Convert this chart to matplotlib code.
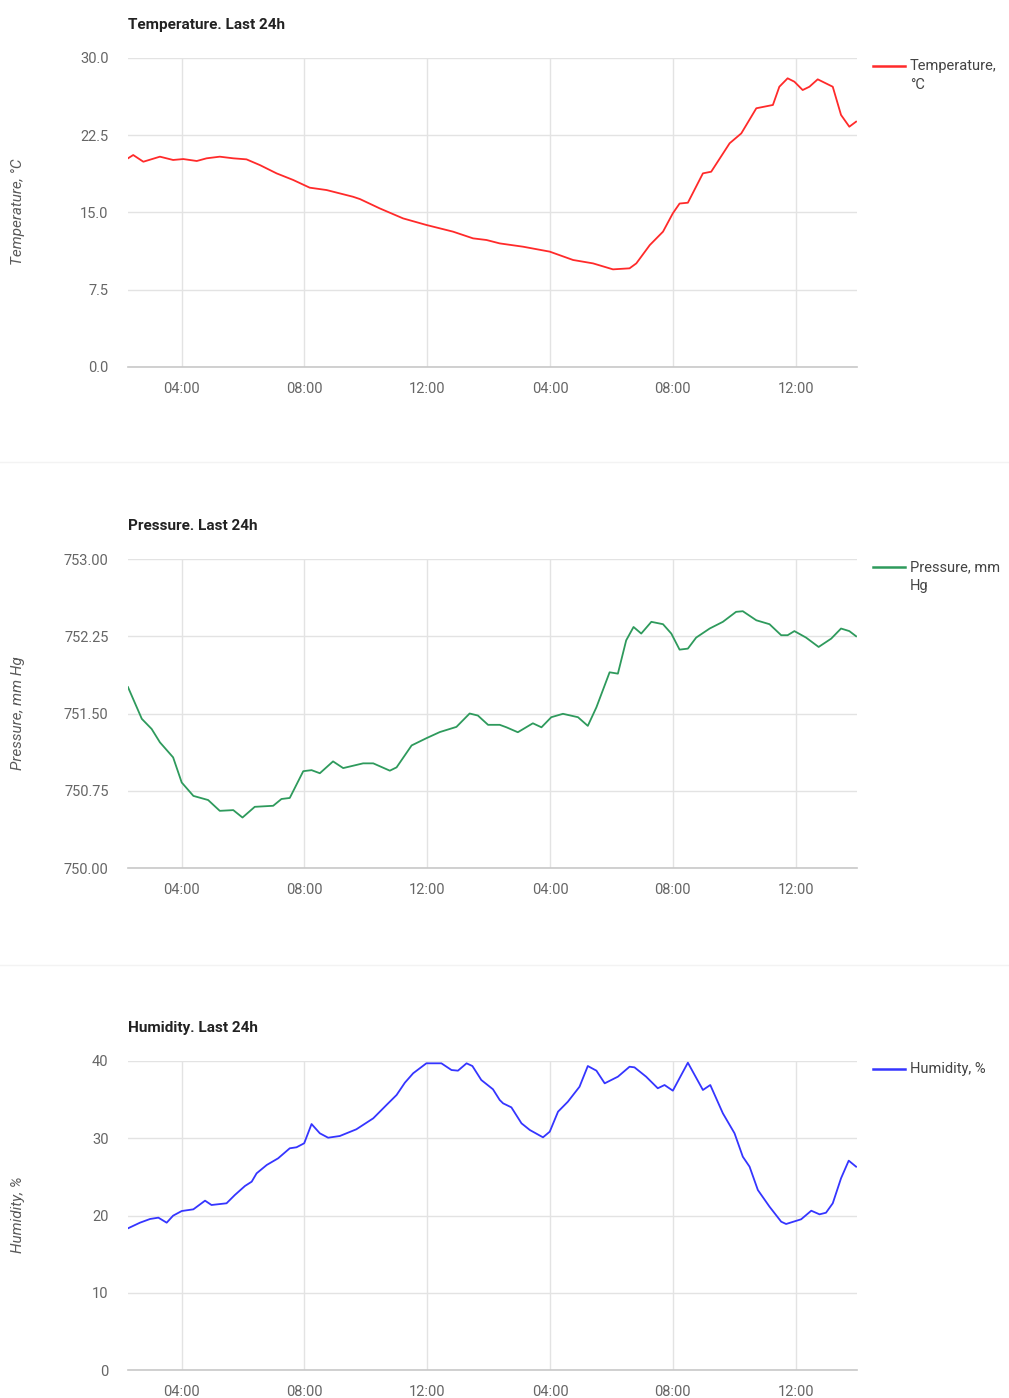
import matplotlib
matplotlib.use("Agg")
import matplotlib.pyplot as plt
from matplotlib.lines import Line2D

plt.rcParams['font.family'] = ['Roboto', 'DejaVu Sans']

# hours since midnight of the first day (ticks at 4h steps)
tick_hours = [4, 8, 12, 16, 20, 24]
tick_labels = ["04:00", "08:00", "12:00", "04:00", "08:00", "12:00"]

temp_hours = [2.25, 2.42, 2.75, 3.29, 3.72, 4.05, 4.49, 4.81, 5.24, 5.68, 6.11, 6.55,
              7.09, 7.63, 8.17, 8.72, 9.58, 9.81, 10.45, 11.21, 11.97, 12.84, 13.49,
              13.93, 14.36, 15.12, 15.99, 16.75, 17.40, 18.05, 18.59, 18.81, 19.25,
              19.68, 20.00, 20.22, 20.49, 20.98, 21.25, 21.85, 22.23, 22.72, 23.26,
              23.47, 23.74, 23.96, 24.23, 24.45, 24.72, 25.21, 25.48, 25.75, 25.97]
temp_values = [20.26, 20.58, 19.93, 20.42, 20.10, 20.19, 20.00, 20.26, 20.42, 20.26,
               20.16, 19.60, 18.80, 18.16, 17.41, 17.18, 16.53, 16.30, 15.40, 14.43,
               13.79, 13.14, 12.49, 12.33, 12.00, 11.68, 11.20, 10.39, 10.06, 9.48,
               9.58, 10.06, 11.84, 13.14, 14.92, 15.87, 15.95, 18.80, 18.96, 21.72,
               22.68, 25.12, 25.44, 27.21, 28.03, 27.70, 26.89, 27.21, 27.93, 27.21,
               24.47, 23.33, 23.82]

pres_hours = [2.25, 2.70, 3.02, 3.29, 3.72, 4.00, 4.38, 4.86, 5.24, 5.68, 5.98, 6.38,
              6.98, 7.25, 7.52, 7.96, 8.23, 8.50, 8.93, 9.26, 9.91, 10.24, 10.78, 11.00,
              11.49, 11.97, 12.41, 12.95, 13.38, 13.65, 13.98, 14.36, 14.58, 14.95,
              15.44, 15.72, 16.04, 16.42, 16.91, 17.23, 17.51, 17.94, 18.21, 18.48,
              18.72, 18.97, 19.30, 19.68, 19.95, 20.22, 20.49, 20.76, 21.20, 21.63,
              22.06, 22.28, 22.72, 23.15, 23.53, 23.74, 23.96, 24.34, 24.75, 25.16,
              25.48, 25.75, 25.97]
pres_values = [751.756, 751.448, 751.350, 751.220, 751.074, 750.830, 750.700, 750.660,
               750.555, 750.562, 750.490, 750.594, 750.604, 750.670, 750.680, 750.940,
               750.950, 750.920, 751.035, 750.970, 751.016, 751.016, 750.945, 750.977,
               751.190, 751.260, 751.320, 751.370, 751.500, 751.480, 751.390, 751.390,
               751.366, 751.318, 751.405, 751.366, 751.464, 751.497, 751.464, 751.380,
               751.560, 751.900, 751.887, 752.210, 752.340, 752.276, 752.390, 752.367,
               752.276, 752.120, 752.130, 752.237, 752.325, 752.390, 752.487, 752.493,
               752.405, 752.367, 752.260, 752.260, 752.300, 752.237, 752.146, 752.227,
               752.325, 752.300, 752.250]

hum_hours = [2.25, 2.64, 2.97, 3.24, 3.51, 3.72, 4.00, 4.38, 4.76, 4.97, 5.46, 5.73,
             6.06, 6.28, 6.44, 6.77, 7.14, 7.52, 7.74, 7.99, 8.23, 8.50, 8.77, 9.15,
             9.69, 10.24, 10.67, 11.00, 11.27, 11.54, 11.97, 12.46, 12.79, 13.00, 13.28,
             13.47, 13.76, 14.14, 14.36, 14.47, 14.74, 15.07, 15.34, 15.77, 15.99, 16.26,
             16.58, 16.96, 17.23, 17.51, 17.78, 18.21, 18.59, 18.75, 19.13, 19.51, 19.73,
             20.00, 20.49, 20.98, 21.22, 21.63, 22.01, 22.28, 22.50, 22.77, 23.15, 23.53,
             23.69, 24.18, 24.51, 24.78, 24.99, 25.21, 25.48, 25.73, 25.97]
hum_values = [18.34, 19.07, 19.55, 19.72, 19.07, 19.98, 20.58, 20.80, 21.92, 21.36,
              21.58, 22.65, 23.82, 24.38, 25.46, 26.54, 27.40, 28.70, 28.83, 29.35,
              31.84, 30.64, 30.07, 30.29, 31.16, 32.58, 34.30, 35.60, 37.19, 38.41,
              39.70, 39.70, 38.83, 38.75, 39.70, 39.35, 37.54, 36.34, 34.95, 34.52,
              34.00, 31.93, 31.07, 30.12, 30.85, 33.44, 34.73, 36.67, 39.35, 38.75,
              37.11, 37.97, 39.26, 39.18, 37.97, 36.47, 36.89, 36.16, 39.78, 36.25,
              36.89, 33.23, 30.64, 27.61, 26.32, 23.30, 21.14, 19.20, 18.90, 19.51,
              20.62, 20.15, 20.36, 21.58, 24.82, 27.10, 26.32]

W, H = 1009, 1398


def draw_panel(fig, top, x, y, color, title, ylabel, legend_lines, yticks, fmt):
    bottom = top + 309
    ax = fig.add_axes([128 / W, 1 - bottom / H, 729 / W, 309 / H])
    ax.plot(x, y, color=color, lw=1.3, solid_joinstyle='round')
    ax.set_xlim(2.25, 26.0)
    ax.set_ylim(yticks[0], yticks[-1])
    ax.set_xticks(tick_hours)
    ax.set_xticklabels(tick_labels)
    ax.set_yticks(yticks)
    ax.set_yticklabels([fmt.format(v) for v in yticks])
    ax.grid(True, color='#e3e3e3', lw=1.0)
    ax.set_axisbelow(True)
    for s in ['top', 'right', 'left']:
        ax.spines[s].set_visible(False)
    ax.spines['bottom'].set_color('#c8c8c8')
    ax.spines['bottom'].set_linewidth(1.2)
    ax.tick_params(length=0, labelsize=10.5, colors='#666666')
    ax.tick_params(axis='y', pad=14)
    ax.tick_params(axis='x', pad=11)

    fig.text(128 / W, 1 - (top - 33) / H, title, fontsize=11, fontweight='bold',
             color='#222222', va='center', ha='left')
    fig.text(18 / W, 1 - (top + 154) / H, ylabel, fontsize=11, style='italic',
             color='#5a5a5a', rotation=90, va='center', ha='center')

    ly = 1 - (top + 8) / H
    fig.add_artist(Line2D([873 / W, 905 / W], [ly, ly], color=color, lw=1.8))
    fig.text(910 / W, ly, legend_lines[0], fontsize=10.5, color='#444444',
             va='center', ha='left')
    if len(legend_lines) > 1:
        fig.text(910 / W, ly - 19 / H, legend_lines[1], fontsize=10.5, color='#444444',
                 va='center', ha='left')
    return ax


fig = plt.figure(figsize=(W / 100, H / 100), dpi=100)

draw_panel(fig, 58, temp_hours, temp_values, '#ff2a2a', 'Temperature. Last 24h',
           'Temperature, °C', ['Temperature,', '°C'], [0, 7.5, 15, 22.5, 30], '{:.1f}')
draw_panel(fig, 559, pres_hours, pres_values, '#2e9a5c', 'Pressure. Last 24h',
           'Pressure, mm Hg', ['Pressure, mm', 'Hg'], [750, 750.75, 751.5, 752.25, 753],
           '{:.2f}')
draw_panel(fig, 1061, hum_hours, hum_values, '#3535ff', 'Humidity. Last 24h',
           'Humidity, %', ['Humidity, %'], [0, 10, 20, 30, 40], '{:.0f}')

# faint separators between the chart blocks
for yy in [462, 965]:
    fig.add_artist(Line2D([0, 1], [1 - yy / H, 1 - yy / H], color='#f3f3f3', lw=1))

plt.savefig("out.png", dpi=100)
